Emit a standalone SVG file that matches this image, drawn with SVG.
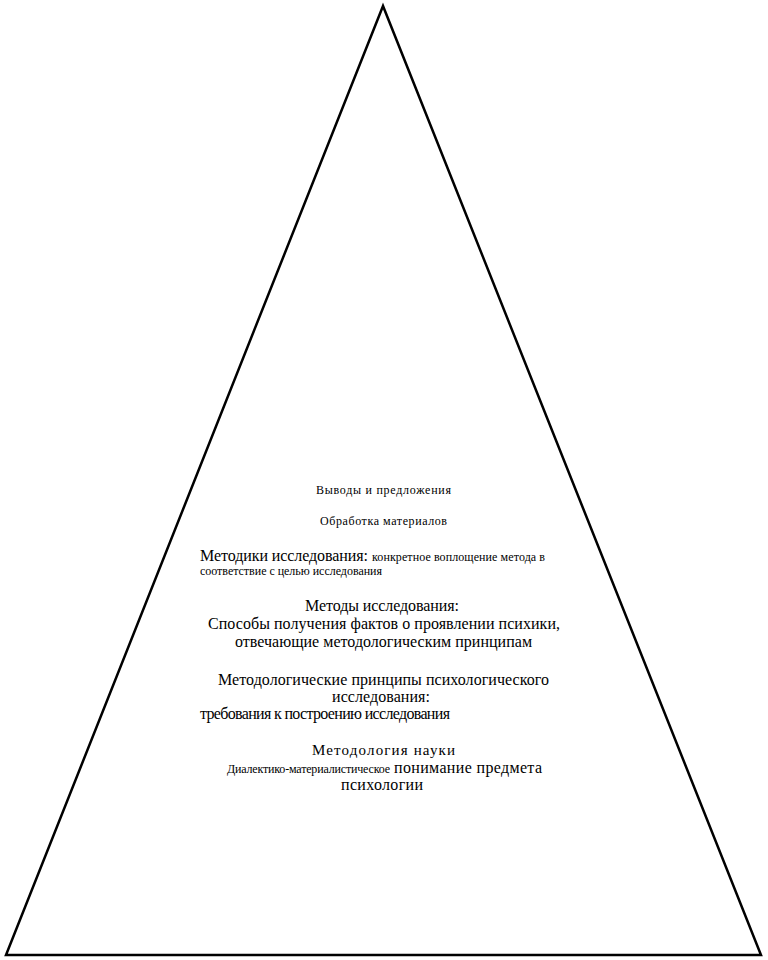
<svg xmlns="http://www.w3.org/2000/svg" width="768" height="960" viewBox="0 0 768 960">
<style>
text{font-family:'Liberation Serif',serif;fill:#000}
.s{font-size:12px}
.m{font-size:16px}
.n{font-size:15px}
</style>
<rect width="768" height="960" fill="#fff"/>
<g id="pyramid">
<polygon points="383,6 6,955 761,955" fill="none" stroke="#000" stroke-width="2.5" stroke-linejoin="miter"/>
</g>
<g font-family="'Liberation Serif', serif" fill="#000">
<g id="level-conclusions">
<text class="s" x="316" y="494" textLength="135" lengthAdjust="spacing">Выводы и предложения</text>
</g>
<g id="level-processing">
<text class="s" x="320" y="525" textLength="127" lengthAdjust="spacing">Обработка материалов</text>
</g>
<g id="level-techniques">
<text class="m" x="200" y="561" textLength="168" lengthAdjust="spacing">Методики исследования:</text>
<text class="s" x="372" y="561" textLength="173" lengthAdjust="spacing">конкретное воплощение метода в</text>
<text class="s" x="200" y="575" textLength="182" lengthAdjust="spacing">соответствие с целью исследования</text>
</g>
<g id="level-methods">
<text class="m" x="305" y="611" textLength="154" lengthAdjust="spacing">Методы исследования:</text>
<text class="m" x="208" y="629" textLength="352" lengthAdjust="spacing">Способы получения фактов о проявлении психики,</text>
<text class="m" x="235" y="647" textLength="297" lengthAdjust="spacing">отвечающие методологическим принципам</text>
</g>
<g id="level-principles">
<text class="m" x="218" y="685" textLength="331" lengthAdjust="spacing">Методологические принципы психологического</text>
<text class="m" x="332" y="702" textLength="98" lengthAdjust="spacing">исследования:</text>
<text class="m" x="200" y="719" textLength="250" lengthAdjust="spacing">требования к построению исследования</text>
</g>
<g id="level-methodology">
<text class="n" x="312" y="755" textLength="143" lengthAdjust="spacing">Методология науки</text>
<text class="s" x="227" y="773" textLength="163" lengthAdjust="spacing">Диалектико-материалистическое</text>
<text class="m" x="394" y="773" textLength="148" lengthAdjust="spacing">понимание предмета</text>
<text class="m" x="341" y="790" textLength="82" lengthAdjust="spacing">психологии</text>
</g>
</g>
<g id="connectors"></g>
</svg>
